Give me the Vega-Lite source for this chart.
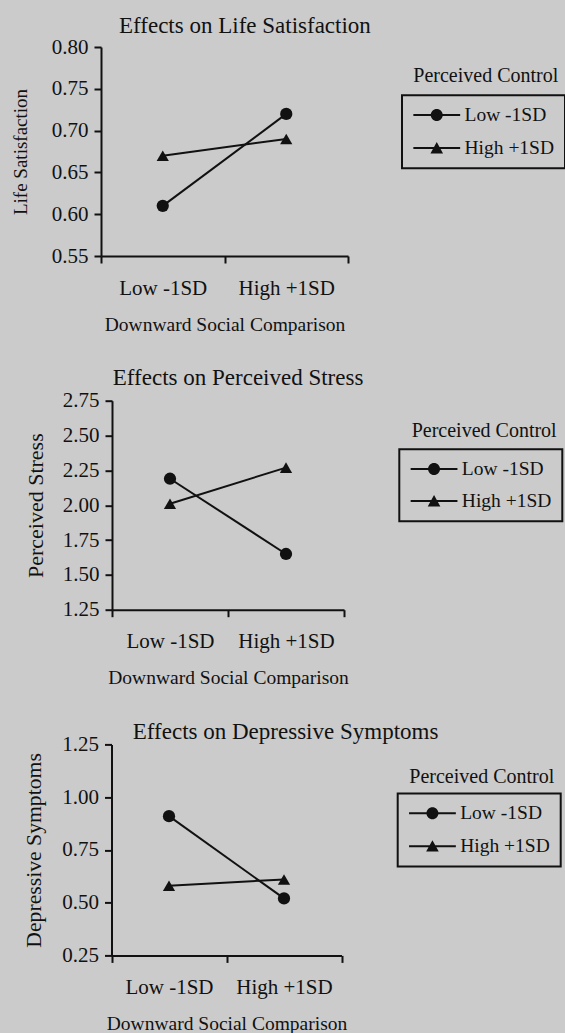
{
  "$schema": "https://vega.github.io/schema/vega-lite/v6.json",
  "background": "#cbcbcb",
  "padding": {"left": 11, "top": 15, "right": 0, "bottom": 0},
  "config": {
    "font": "Liberation Serif",
    "view": {"stroke": null},
    "axis": {
      "domainColor": "#111111", "domainWidth": 2, "tickColor": "#111111", "tickWidth": 2, "tickSize": 7,
      "labelColor": "#111111", "titleColor": "#111111", "labelFont": "Liberation Serif", "titleFont": "Liberation Serif",
      "labelFontSize": 21, "titleFontWeight": "normal", "grid": false
    },
    "title": {"font": "Liberation Serif", "fontSize": 23, "fontWeight": "normal", "color": "#111111", "anchor": "start", "frame": "group"},
    "legend": {
      "titleFont": "Liberation Serif", "labelFont": "Liberation Serif", "titleFontSize": 20, "labelFontSize": 19.5,
      "titleFontWeight": "normal", "titleColor": "#111111", "labelColor": "#111111", "strokeWidth": 2
    }
  },
  "datasets": {
    "ls": [
      {"dsc": "Low -1SD", "pc": "Low -1SD", "control": "Low -1SD", "value": 0.61},
      {"dsc": "High +1SD", "pc": "Low -1SD", "control": "Low -1SD", "value": 0.72},
      {"dsc": "Low -1SD", "pc": "High +1SD", "control": "High +1SD", "value": 0.67},
      {"dsc": "High +1SD", "pc": "High +1SD", "control": "High +1SD", "value": 0.69}
    ],
    "ps": [
      {"dsc": "Low -1SD", "pc": "Low -1SD", "control": "Low -1SD", "value": 2.19},
      {"dsc": "High +1SD", "pc": "Low -1SD", "control": "Low -1SD", "value": 1.65},
      {"dsc": "Low -1SD", "pc": "High +1SD", "control": "High +1SD", "value": 2.01},
      {"dsc": "High +1SD", "pc": "High +1SD", "control": "High +1SD", "value": 2.27}
    ],
    "ds": [
      {"dsc": "Low -1SD", "pc": "Low -1SD", "control": "Low -1SD", "value": 0.91},
      {"dsc": "High +1SD", "pc": "Low -1SD", "control": "Low -1SD", "value": 0.52},
      {"dsc": "Low -1SD", "pc": "High +1SD", "control": "High +1SD", "value": 0.58},
      {"dsc": "High +1SD", "pc": "High +1SD", "control": "High +1SD", "value": 0.61}
    ]
  },
  "spacing": 32.7,
  "resolve": {"scale": {"shape": "independent", "size": "independent"}},
  "vconcat": [
    {
      "data": {"name": "ls"},
      "title": {"text": "Effects on Life Satisfaction", "dx": 18, "offset": -2},
      "width": 247, "height": 209,
      "encoding": {
        "x": {"field": "dsc", "type": "nominal", "sort": ["Low -1SD", "High +1SD"],
          "scale": {"type": "band", "paddingInner": 0, "paddingOuter": 0},
          "axis": {"title": "Downward Social Comparison", "labelAngle": 0, "tickBand": "extent", "labelPadding": 14, "titlePadding": 17, "titleFontSize": 19.5}},
        "y": {"field": "value", "type": "quantitative",
          "scale": {"domain": [0.55, 0.8], "nice": false, "zero": false},
          "axis": {"title": "Life Satisfaction", "values": [0.55, 0.6, 0.65, 0.7, 0.75, 0.8], "format": ".2f", "titleFontSize": 19, "titlePadding": 20.6, "labelPadding": 6}}
      },
      "layer": [
        {"mark": {"type": "line", "color": "#111111", "strokeWidth": 2}, "encoding": {"detail": {"field": "pc"}}},
        {"transform": [{"filter": {"field": "pc", "equal": "Low -1SD"}}],
          "mark": {"type": "point", "filled": true, "color": "#111111", "size": 150, "opacity": 1, "shape": "circle"}},
        {"transform": [{"filter": {"field": "pc", "equal": "High +1SD"}}],
          "mark": {"type": "point", "filled": true, "color": "#111111", "size": 150, "opacity": 1, "shape": "triangle-up"}},
        {"mark": {"type": "point", "filled": true, "fill": "#111111", "stroke": "#111111", "strokeWidth": 2, "opacity": 1},
          "encoding": {
            "shape": {"field": "pc", "type": "nominal",
              "scale": {"domain": ["Low -1SD", "High +1SD"], "range": ["M-3.9,-0.17L3.9,-0.17L3.9,0.17L-3.9,0.17ZM1,0A1,1,0,1,1,-1,0A1,1,0,1,1,1,0Z", "M-3.9,-0.17L3.9,-0.17L3.9,0.17L-3.9,0.17ZM0,-1L1.05,0.9L-1.05,0.9Z"]},
              "legend": {"title": null, "orient": "none", "legendX": 301, "legendY": 48.3, "strokeColor": "#111111", "padding": 10,
                "symbolSize": 144, "symbolFillColor": "#111111", "symbolStrokeColor": "#111111", "symbolStrokeWidth": 0,
                "symbolOffset": 15, "labelOffset": 18, "rowPadding": 12}},
            "size": {"field": "control", "type": "ordinal",
              "scale": {"range": [0, 0]},
              "legend": {"title": "Perceived Control", "orient": "none", "legendX": 312.3, "legendY": 18.5, "padding": 0, "labelExpr": "''", "symbolOpacity": 0}}
          }}
      ]
    },
    {
      "data": {"name": "ps"},
      "title": {"text": "Effects on Perceived Stress", "dx": 11.8, "offset": -0.7},
      "width": 243, "height": 209,
      "encoding": {
        "x": {"field": "dsc", "type": "nominal", "sort": ["Low -1SD", "High +1SD"],
          "scale": {"type": "band", "paddingInner": 0, "paddingOuter": 0, "range": [11, 243]},
          "axis": {"title": "Downward Social Comparison", "labelAngle": 0, "tickBand": "extent", "labelPadding": 14, "titlePadding": 17, "titleFontSize": 19.5}},
        "y": {"field": "value", "type": "quantitative",
          "scale": {"domain": [1.25, 2.75], "nice": false, "zero": false},
          "axis": {"title": "Perceived Stress", "offset": -11, "values": [1.25, 1.5, 1.75, 2, 2.25, 2.5, 2.75], "format": ".2f", "titleFontSize": 22, "titlePadding": 15, "labelPadding": 6}}
      },
      "layer": [
        {"mark": {"type": "line", "color": "#111111", "strokeWidth": 2}, "encoding": {"detail": {"field": "pc"}}},
        {"transform": [{"filter": {"field": "pc", "equal": "Low -1SD"}}],
          "mark": {"type": "point", "filled": true, "color": "#111111", "size": 150, "opacity": 1, "shape": "circle"}},
        {"transform": [{"filter": {"field": "pc", "equal": "High +1SD"}}],
          "mark": {"type": "point", "filled": true, "color": "#111111", "size": 150, "opacity": 1, "shape": "triangle-up"}},
        {"mark": {"type": "point", "filled": true, "fill": "#111111", "stroke": "#111111", "strokeWidth": 2, "opacity": 1},
          "encoding": {
            "shape": {"field": "pc", "type": "nominal",
              "scale": {"domain": ["Low -1SD", "High +1SD"], "range": ["M-3.9,-0.17L3.9,-0.17L3.9,0.17L-3.9,0.17ZM1,0A1,1,0,1,1,-1,0A1,1,0,1,1,1,0Z", "M-3.9,-0.17L3.9,-0.17L3.9,0.17L-3.9,0.17ZM0,-1L1.05,0.9L-1.05,0.9Z"]},
              "legend": {"title": null, "orient": "none", "legendX": 298.3, "legendY": 48.6, "strokeColor": "#111111", "padding": 10,
                "symbolSize": 144, "symbolFillColor": "#111111", "symbolStrokeColor": "#111111", "symbolStrokeWidth": 0,
                "symbolOffset": 15, "labelOffset": 18, "rowPadding": 11}},
            "size": {"field": "control", "type": "ordinal",
              "scale": {"range": [0, 0]},
              "legend": {"title": "Perceived Control", "orient": "none", "legendX": 310.7, "legendY": 19.8, "padding": 0, "labelExpr": "''", "symbolOpacity": 0}}
          }}
      ]
    },
    {
      "data": {"name": "ds"},
      "title": {"text": "Effects on Depressive Symptoms", "dx": 31.8, "offset": -10.4},
      "width": 240.5, "height": 211,
      "encoding": {
        "x": {"field": "dsc", "type": "nominal", "sort": ["Low -1SD", "High +1SD"],
          "scale": {"type": "band", "paddingInner": 0, "paddingOuter": 0, "range": [10.5, 240.5]},
          "axis": {"title": "Downward Social Comparison", "labelAngle": 0, "tickBand": "extent", "labelPadding": 14, "titlePadding": 17, "titleFontSize": 19.5}},
        "y": {"field": "value", "type": "quantitative",
          "scale": {"domain": [0.25, 1.25], "nice": false, "zero": false},
          "axis": {"title": "Depressive Symptoms", "offset": -10.5, "values": [0.25, 0.5, 0.75, 1, 1.25], "format": ".2f", "titleFontSize": 21.7, "titlePadding": 16.2, "labelPadding": 6}}
      },
      "layer": [
        {"mark": {"type": "line", "color": "#111111", "strokeWidth": 2}, "encoding": {"detail": {"field": "pc"}}},
        {"transform": [{"filter": {"field": "pc", "equal": "Low -1SD"}}],
          "mark": {"type": "point", "filled": true, "color": "#111111", "size": 150, "opacity": 1, "shape": "circle"}},
        {"transform": [{"filter": {"field": "pc", "equal": "High +1SD"}}],
          "mark": {"type": "point", "filled": true, "color": "#111111", "size": 150, "opacity": 1, "shape": "triangle-up"}},
        {"mark": {"type": "point", "filled": true, "fill": "#111111", "stroke": "#111111", "strokeWidth": 2, "opacity": 1},
          "encoding": {
            "shape": {"field": "pc", "type": "nominal",
              "scale": {"domain": ["Low -1SD", "High +1SD"], "range": ["M-3.9,-0.17L3.9,-0.17L3.9,0.17L-3.9,0.17ZM1,0A1,1,0,1,1,-1,0A1,1,0,1,1,1,0Z", "M-3.9,-0.17L3.9,-0.17L3.9,0.17L-3.9,0.17ZM0,-1L1.05,0.9L-1.05,0.9Z"]},
              "legend": {"title": null, "orient": "none", "legendX": 296.7, "legendY": 49, "strokeColor": "#111111", "padding": 10,
                "symbolSize": 144, "symbolFillColor": "#111111", "symbolStrokeColor": "#111111", "symbolStrokeWidth": 0,
                "symbolOffset": 15, "labelOffset": 18, "rowPadding": 12}},
            "size": {"field": "control", "type": "ordinal",
              "scale": {"range": [0, 0]},
              "legend": {"title": "Perceived Control", "orient": "none", "legendX": 308.3, "legendY": 22.9, "padding": 0, "labelExpr": "''", "symbolOpacity": 0}}
          }}
      ]
    }
  ]
}
